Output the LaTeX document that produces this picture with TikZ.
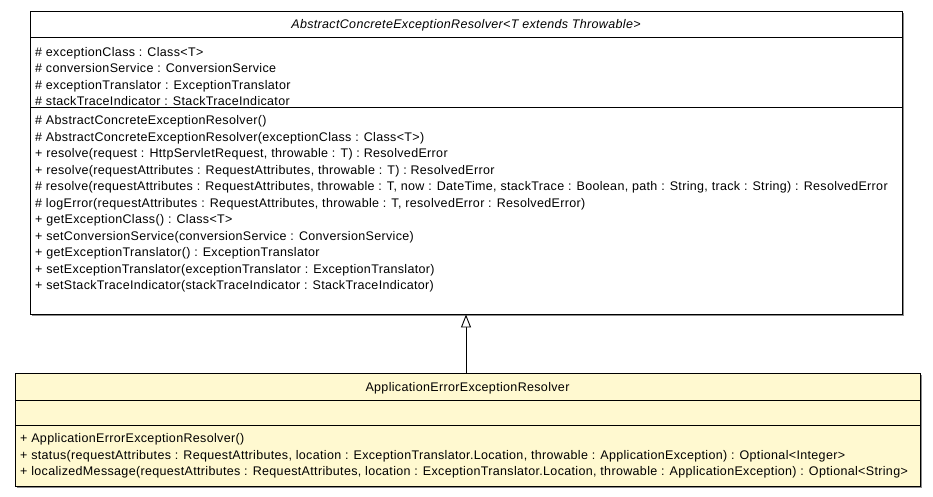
\documentclass[tikz,border=0pt]{standalone}
\usepackage{fontspec}
\setmainfont[LetterSpace=2.7]{Liberation Sans}
\usetikzlibrary{arrows.meta}
\definecolor{umlfill}{HTML}{FFF9D0}
\definecolor{umlshadow}{HTML}{8C8C8C}
\tikzset{
  classbox/.style={draw=black, line width=0.9pt, inner sep=0pt, rectangle},
  member/.style={anchor=base west, inner sep=0pt, font=\fontsize{12.5}{14}\selectfont},
  title/.style={anchor=base, inner sep=0pt, font=\fontsize{12.5}{14}\selectfont},
  sep/.style={draw=black, line width=0.9pt},
  inherit/.style={draw=black, line width=0.9pt, -{Triangle[open, length=13pt, width=10pt, fill=white]}}
}
\begin{document}
\begin{tikzpicture}[x=1pt, y=-1pt]
\useasboundingbox (0,0) rectangle (933,496);
% shadows
\fill[umlshadow] (31.5,12.5) rectangle (903.5,315.5);
\fill[umlshadow] (16.5,374.5) rectangle (921.5,487.5);
% boxes
\node[classbox, fill=white, minimum width=872pt, minimum height=303pt] (abs) at (466,162.5) {};
\node[classbox, fill=umlfill, minimum width=905pt, minimum height=113pt] (app) at (467.5,429.5) {};
% compartment lines
\coordinate (absh) at (30,37);
\coordinate (absa) at (30,107);
\draw[sep] (absh) -- (absh -| abs.east);
\draw[sep] (absa) -- (absa -| abs.east);
\coordinate (apph) at (15,400);
\coordinate (appa) at (15,425);
\draw[sep] (apph) -- (apph -| app.east);
\draw[sep] (appa) -- (appa -| app.east);
% titles
\node[title] (abst) at (466,28.5) {\itshape AbstractConcreteExceptionResolver<T extends Throwable>};
\node[title] (appt) at (467.5,391.5) {ApplicationErrorExceptionResolver};
% attributes
\node[member] (a1) at (35,56) {\# exceptionClass : Class<T>};
\node[member] (a2) at (35,72.5) {\# conversionService : ConversionService};
\node[member] (a3) at (35,89) {\# exceptionTranslator : ExceptionTranslator};
\node[member] (a4) at (35,105.5) {\# stackTraceIndicator : StackTraceIndicator};
% methods
\node[member] (m1) at (35,124.5) {\# AbstractConcreteExceptionResolver()};
\node[member] (m2) at (35,141) {\# AbstractConcreteExceptionResolver(exceptionClass : Class<T>)};
\node[member] (m3) at (35,157.5) {+ resolve(request : HttpServletRequest, throwable : T) : ResolvedError};
\node[member] (m4) at (35,174) {+ resolve(requestAttributes : RequestAttributes, throwable : T) : ResolvedError};
\node[member] (m5) at (35,190.5) {\# resolve(requestAttributes : RequestAttributes, throwable : T, now : DateTime, stackTrace : Boolean, path : String, track : String) : ResolvedError};
\node[member] (m6) at (35,207) {\# logError(requestAttributes : RequestAttributes, throwable : T, resolvedError : ResolvedError)};
\node[member] (m7) at (35,223.5) {+ getExceptionClass() : Class<T>};
\node[member] (m8) at (35,240) {+ setConversionService(conversionService : ConversionService)};
\node[member] (m9) at (35,256.5) {+ getExceptionTranslator() : ExceptionTranslator};
\node[member] (m10) at (35,273) {+ setExceptionTranslator(exceptionTranslator : ExceptionTranslator)};
\node[member] (m11) at (35,289.5) {+ setStackTraceIndicator(stackTraceIndicator : StackTraceIndicator)};
% bottom methods
\node[member] (b1) at (20,442.5) {+ ApplicationErrorExceptionResolver()};
\node[member] (b2) at (20,459) {+ status(requestAttributes : RequestAttributes, location : ExceptionTranslator.Location, throwable : ApplicationException) : Optional<Integer>};
\node[member] (b3) at (20,475.5) {+ localizedMessage(requestAttributes : RequestAttributes, location : ExceptionTranslator.Location, throwable : ApplicationException) : Optional<String>};
% inheritance
\draw[inherit] (abs.south |- app.north) -- (abs.south);
\end{tikzpicture}
\end{document}
